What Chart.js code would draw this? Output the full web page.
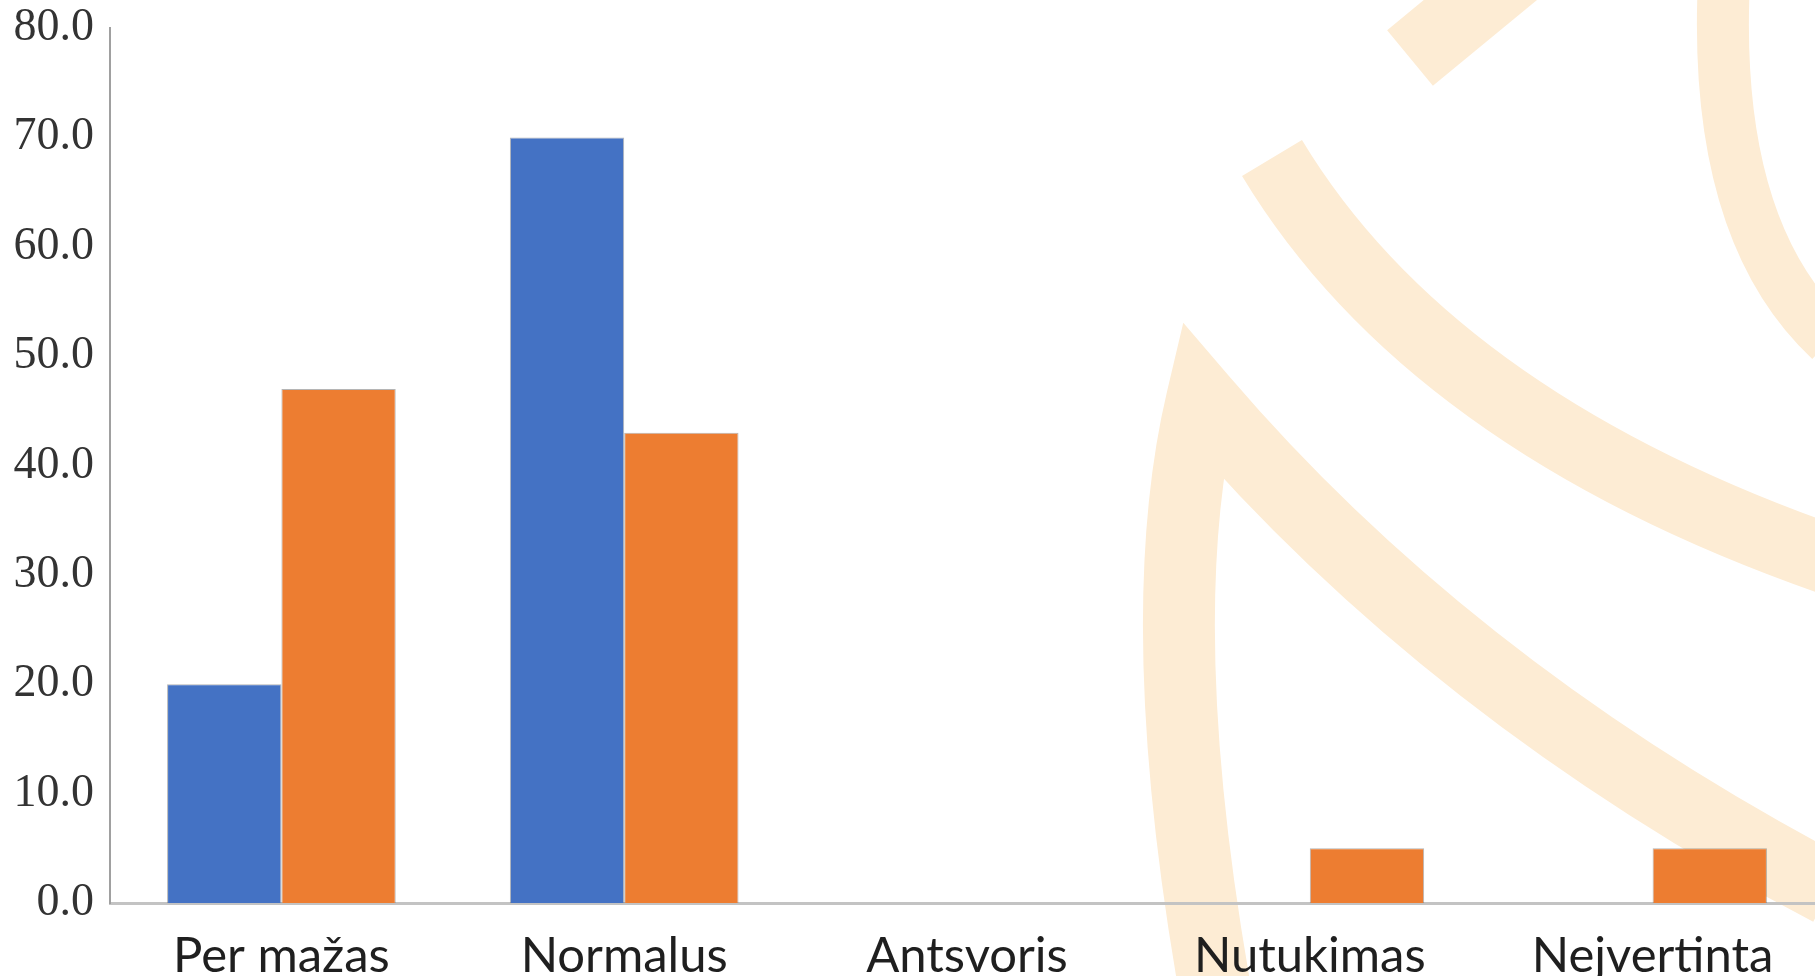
<!DOCTYPE html>
<html>
<head>
<meta charset="utf-8">
<script src="https://cdn.jsdelivr.net/npm/chart.js@4"></script>
<style>
    html, body { margin: 0; padding: 0; background: #ffffff; overflow: hidden; }
    #wrap { width: 1824px; height: 976px; }
</style>
</head>
<body>
<div id="wrap"><canvas id="bmiChart"></canvas></div>
<script>
// Chart values
const categories = ['Per mažas', 'Normalus', 'Antsvoris', 'Nutukimas', 'Nejvertinta'];
const blueValues = [20.0, 70.0, 0, 0, 0];
const orangeValues = [47.0, 43.0, 0, 5.0, 5.0];
const yTicks = [0, 10, 20, 30, 40, 50, 60, 70, 80];

// Light peach logo drawn behind the chart
const watermark = {
    id: 'watermark',
    beforeDraw(chart) {
        const ctx = chart.ctx;
        ctx.save();
        ctx.strokeStyle = 'rgb(253, 236, 212)';
        ctx.lineCap = 'butt';
        ctx.lineJoin = 'miter';
        ctx.miterLimit = 20;

        // small piece at top
        ctx.lineWidth = 72;
        ctx.beginPath();
        ctx.moveTo(1410, 58);
        ctx.lineTo(1535, -45);
        ctx.stroke();

        // middle arc
        ctx.lineWidth = 70;
        ctx.beginPath();
        ctx.moveTo(1272, 158);
        ctx.quadraticCurveTo(1430, 420, 1830, 560);
        ctx.stroke();

        // big pointed shape
        ctx.lineWidth = 72;
        ctx.beginPath();
        ctx.moveTo(1215, 990);
        ctx.quadraticCurveTo(1150, 620, 1202, 400);
        ctx.quadraticCurveTo(1450, 690, 1830, 890);
        ctx.stroke();

        // right arc
        ctx.lineWidth = 52;
        ctx.beginPath();
        ctx.moveTo(1724, -20);
        ctx.quadraticCurveTo(1712, 230, 1830, 340);
        ctx.stroke();
        ctx.restore();
    }
};

const ctx = document.getElementById('bmiChart').getContext('2d');
new Chart(ctx, {
    type: 'bar',
    data: {
        labels: categories,
        datasets: [{
            label: 'Series 1',
            data: blueValues,
            backgroundColor: '#4472C4',
            borderColor: 'rgba(90, 90, 90, 0.45)',
            borderWidth: 1
        }, {
            label: 'Series 2',
            data: orangeValues,
            backgroundColor: '#ED7D31',
            borderColor: 'rgba(90, 90, 90, 0.45)',
            borderWidth: 1
        }]
    },
    options: {
        responsive: true,
        maintainAspectRatio: false,
        animation: false,
        layout: { padding: { top: 28, right: 0, bottom: 0, left: 0 } },
        plugins: {
            legend: { display: false },
            tooltip: { enabled: false }
        },
        datasets: {
            bar: { categoryPercentage: 0.667, barPercentage: 1.0 }
        },
        scales: {
            x: {
                grid: { display: false },
                border: { color: '#c3c3c3', width: 3 },
                ticks: {
                    color: '#1f1f1f',
                    padding: 16,
                    font: { family: 'Lato', size: 49 }
                },
                afterFit(scale) { scale.height = 73; }
            },
            y: {
                min: 0,
                max: 80,
                grid: { display: false },
                border: { color: '#a0a0a0', width: 2 },
                afterBuildTicks(scale) {
                    scale.ticks = yTicks.map(v => ({ value: v }));
                },
                ticks: {
                    color: '#333333',
                    padding: 8,
                    font: { family: 'Liberation Serif', size: 46, lineHeight: 0.6 },
                    callback: value => value.toFixed(1)
                },
                afterFit(scale) { scale.width = 110; }
            }
        }
    },
    plugins: [watermark]
});
</script>
</body>
</html>
